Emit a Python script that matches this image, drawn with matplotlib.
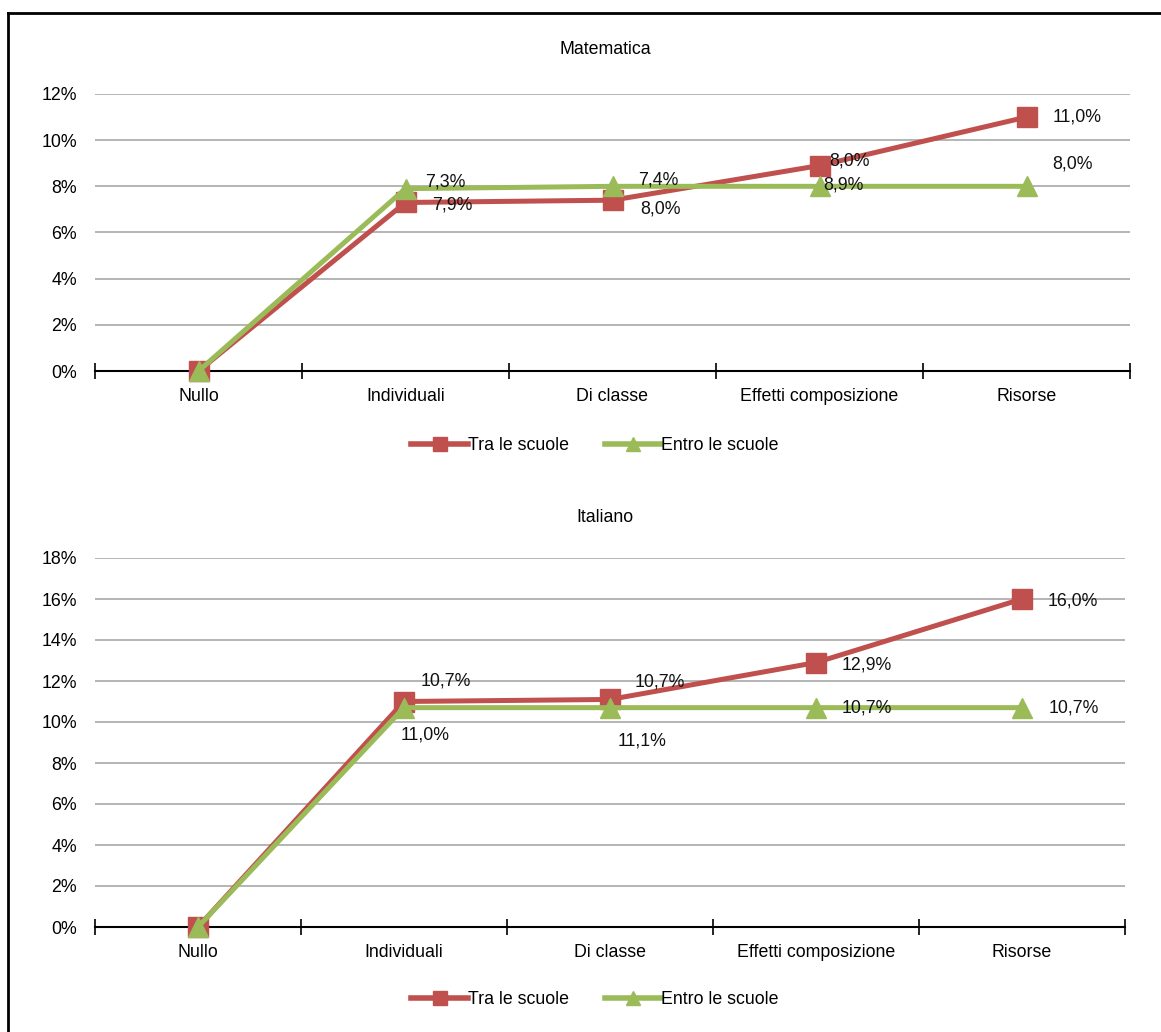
import matplotlib
matplotlib.use("Agg")
import matplotlib.pyplot as plt
from matplotlib.lines import Line2D

plt.rcParams['font.family'] = ['Liberation Sans', 'DejaVu Sans']

categories = ["Nullo", "Individuali", "Di classe", "Effetti composizione", "Risorse"]
series_names = ["Tra le scuole", "Entro le scuole"]

mat_tra = [0.0, 7.3, 7.4, 8.9, 11.0]
mat_entro = [0.0, 7.9, 8.0, 8.0, 8.0]
mat_tra_labels = ["", "7,9%", "8,0%", "8,0%", "11,0%"]
mat_entro_labels = ["", "7,3%", "7,4%", "8,9%", "8,0%"]
mat_yticks = [0, 2, 4, 6, 8, 10, 12]

ita_tra = [0.0, 11.0, 11.1, 12.9, 16.0]
ita_entro = [0.0, 10.7, 10.7, 10.7, 10.7]
ita_tra_labels = ["", "10,7%", "10,7%", "12,9%", "16,0%"]
ita_entro_labels = ["", "11,0%", "11,1%", "10,7%", "10,7%"]
ita_yticks = [0, 2, 4, 6, 8, 10, 12, 14, 16, 18]

RED = "#C0504D"
GREEN = "#9BBB59"
FS = 12.8

W, H = 1161, 1032
fig = plt.figure(figsize=(W / 100, H / 100), dpi=100)

# label offsets in pixels (layout only)
mat_tra_off = [(0, 0), (27, -3), (28, -9), (10, 5), (26, 0)]
mat_entro_off = [(0, 0), (20, 7), (26, 6), (4, 1), (26, 22)]
ita_tra_off = [(0, 0), (17, 20), (25, 17), (26, -2), (26, -2)]
ita_entro_off = [(0, 0), (-3, -27), (8, -33), (26, 0), (27, 0)]


def panel(rect, title, tra, entro, tra_lab, entro_lab, yticks, tra_off, entro_off, title_y, legend_y):
    ax = fig.add_axes(rect)
    x = list(range(len(categories)))
    ax.plot(x, tra, color=RED, lw=3.6, marker="s", ms=14, mec=RED, mfc=RED,
            clip_on=False, zorder=3, label=series_names[0])
    ax.plot(x, entro, color=GREEN, lw=3.6, marker="^", ms=14, mec=GREEN, mfc=GREEN,
            clip_on=False, zorder=4, label=series_names[1])
    for i in x:
        if tra_lab[i]:
            ax.annotate(tra_lab[i], (x[i], tra[i]), xytext=tra_off[i], textcoords="offset pixels",
                        ha="left", va="center", fontsize=FS, color="#111111", zorder=6)
        if entro_lab[i]:
            ax.annotate(entro_lab[i], (x[i], entro[i]), xytext=entro_off[i], textcoords="offset pixels",
                        ha="left", va="center", fontsize=FS, color="#111111", zorder=6)
    ax.set_xlim(-0.5, len(categories) - 0.5)
    ax.set_ylim(0, yticks[-1])
    ax.set_yticks(yticks)
    ax.set_yticklabels([f"{v}%" for v in yticks], fontsize=FS)
    ax.yaxis.grid(True, color="#A0A0A0", lw=1.1)
    ax.set_axisbelow(True)
    ax.tick_params(axis="y", length=0, pad=13)
    ax.set_xticks([i - 0.5 for i in range(len(categories) + 1)])
    ax.set_xticklabels([])
    ax.set_xticks(x, minor=True)
    ax.set_xticklabels(categories, minor=True, fontsize=FS)
    ax.tick_params(axis="x", which="major", direction="inout", length=12, width=1.2, color="black")
    ax.tick_params(axis="x", which="minor", length=0, pad=12)
    for s in ["left", "right", "top"]:
        ax.spines[s].set_visible(False)
    ax.spines["bottom"].set_linewidth(1.5)
    ax.spines["bottom"].set_zorder(2)
    fig.text(605 / W, 1 - title_y / H, title, ha="center", va="center", fontsize=FS)
    fig.legend(handles=[
        Line2D([], [], color=RED, lw=4, marker="s", ms=10),
        Line2D([], [], color=GREEN, lw=4, marker="^", ms=10)],
        labels=series_names, loc="center", bbox_to_anchor=(595 / W, 1 - legend_y / H),
        ncol=2, frameon=False, fontsize=FS, handlelength=3.2, handletextpad=0.0,
        columnspacing=2.0)
    return ax


panel([95 / W, 1 - 371 / H, (1130 - 95) / W, (371 - 94) / H], "Matematica",
      mat_tra, mat_entro, mat_tra_labels, mat_entro_labels, mat_yticks,
      mat_tra_off, mat_entro_off, 50, 446)
panel([95 / W, 1 - 927 / H, (1125 - 95) / W, (927 - 558) / H], "Italiano",
      ita_tra, ita_entro, ita_tra_labels, ita_entro_labels, ita_yticks,
      ita_tra_off, ita_entro_off, 517, 1000)

# outer frame (top and left edges visible)
fig.add_artist(Line2D([8 / W, 8 / W], [0, 1 - 13 / H], color="black", lw=2, transform=fig.transFigure))
fig.add_artist(Line2D([8 / W, 1], [1 - 13 / H, 1 - 13 / H], color="black", lw=2, transform=fig.transFigure))

fig.savefig("out.png", dpi=100, facecolor="white")
